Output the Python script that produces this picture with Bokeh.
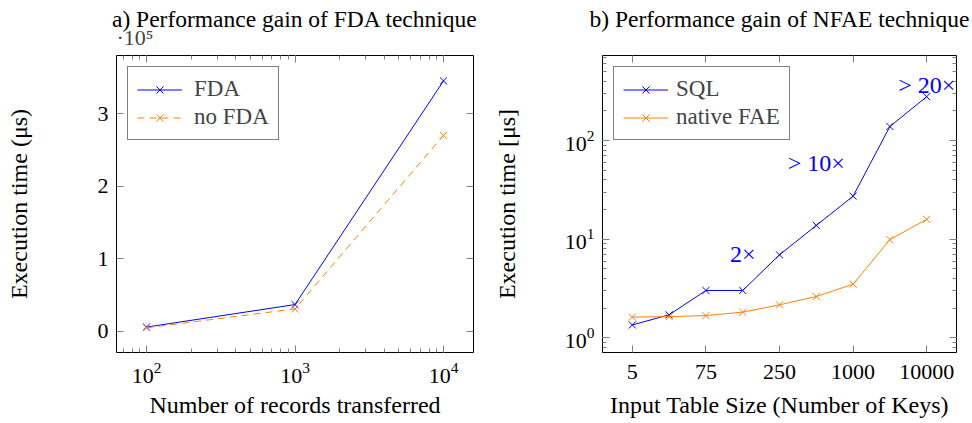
from bokeh.plotting import figure
from bokeh.layouts import row
from bokeh.models import (Range1d, LogAxis, LinearAxis, FixedTicker, Label, Legend,
                          LegendItem, Title)
from bokeh.embed import file_html
from bokeh.resources import INLINE

# ---------------- data ----------------
# a) FDA technique
records = [100, 1000, 10000]
fda = [6000, 37000, 345000]
no_fda = [5000, 31000, 270000]
a_y_ticks = [0, 100000, 200000, 300000]
a_y_tick_labels = ["0", "1", "2", "3"]

# b) NFAE technique (9 evenly spaced input sizes; every second one labelled)
b_index = [0, 1, 2, 3, 4, 5, 6, 7, 8]
sql = [1.35, 1.71, 3.02, 3.02, 6.94, 13.8, 27.3, 139, 279]
native_fae = [1.62, 1.64, 1.68, 1.82, 2.16, 2.62, 3.50, 9.9, 15.9]
b_x_ticks = [0, 2, 4, 6, 8]
b_x_tick_labels = ["5", "75", "250", "1000", "10000"]
annotations = [("2×", 3, 7.0), ("> 10×", 5, 59), ("> 20×", 8, 363)]

FONT = "Liberation Serif"
FS_TITLE = "23.5px"
FS_AXIS = "24px"
FS_TICK = "22px"
FS_LEG = "23px"
BLUE = "#0000ff"
ORANGE = "#ff8000"
TICK = "#808080"


def style_axis(ax, labels=True):
    ax.major_tick_in = 7
    ax.major_tick_out = 0
    ax.minor_tick_in = 4
    ax.minor_tick_out = 0
    ax.major_tick_line_color = TICK
    ax.minor_tick_line_color = TICK
    ax.axis_line_color = None
    ax.major_label_text_font = FONT
    ax.major_label_text_font_size = FS_TICK
    ax.major_label_text_color = "black"
    ax.axis_label_text_font = FONT
    ax.axis_label_text_font_size = FS_AXIS
    ax.axis_label_text_font_style = "normal"
    ax.axis_label_text_color = "black"
    if not labels:
        ax.major_label_text_font_size = "2px"
        ax.major_label_text_alpha = 0
        ax.major_label_standoff = 0


def style_fig(p):
    p.grid.visible = False
    p.outline_line_color = "black"
    p.outline_line_width = 1
    p.title.align = "center"
    p.title.text_font = FONT
    p.title.text_font_size = FS_TITLE
    p.title.text_font_style = "normal"
    p.title.text_color = "black"
    p.title.standoff = -30
    p.background_fill_color = "white"
    p.border_fill_color = "white"


def style_legend(lg):
    lg.location = "top_left"
    lg.margin = 11
    lg.padding = 9
    lg.spacing = 2
    lg.glyph_width = 45
    lg.glyph_height = 25
    lg.label_height = 25
    lg.label_standoff = 12
    lg.label_text_font = FONT
    lg.label_text_font_size = FS_LEG
    lg.border_line_color = "black"
    lg.border_line_width = 1
    lg.background_fill_alpha = 1


def sub_title(text):
    return Title(text=text, align="left", text_font=FONT, text_font_size=FS_TICK,
                 text_font_style="normal", standoff=12)


# ---------------- plot a ----------------
p1 = figure(width=490, height=423, x_axis_type="log",
            x_range=Range1d(10 ** 1.798, 10 ** 4.202), y_range=Range1d(-29000, 380000),
            title="a) Performance gain of FDA technique",
            output_backend="svg", toolbar_location=None,
            min_border_left=116, min_border_right=17, min_border_top=55, min_border_bottom=71)
style_fig(p1)

l1 = p1.line(records, fda, line_color=BLUE, line_width=1)
s1 = p1.scatter(records, fda, marker="x", size=10, line_color=BLUE, line_width=1)
l2 = p1.line(records, no_fda, line_color=ORANGE, line_width=1, line_dash="7 5")
s2 = p1.scatter(records, no_fda, marker="x", size=10, line_color=ORANGE, line_width=1)

p1.yaxis.ticker = FixedTicker(ticks=a_y_ticks)
p1.yaxis.major_label_overrides = {t: l for t, l in zip(a_y_ticks, a_y_tick_labels)}
p1.yaxis.axis_label = "Execution time (μs)"
p1.xaxis.axis_label = "Number of records transferred"
for ax in p1.xaxis + p1.yaxis:
    style_axis(ax)
p1.yaxis.major_label_standoff = 8
p1.yaxis.axis_label_standoff = 63
p1.xaxis.major_label_standoff = 10
p1.xaxis.axis_label_standoff = 6
p1.yaxis.minor_tick_line_color = None

top1 = LogAxis(ticker=p1.xaxis[0].ticker)
style_axis(top1, labels=False)
p1.add_layout(top1, "above")
right1 = LinearAxis(ticker=FixedTicker(ticks=a_y_ticks))
style_axis(right1, labels=False)
right1.minor_tick_line_color = None
p1.add_layout(right1, "right")

# scale factor of the y axis, shown above the frame's top-left corner
p1.add_layout(sub_title("·10⁵"), "above")

lg1 = Legend(items=[LegendItem(label="FDA", renderers=[l1, s1]),
                    LegendItem(label="no FDA", renderers=[l2, s2])])
style_legend(lg1)
p1.add_layout(lg1)

# ---------------- plot b ----------------
p2 = figure(width=482, height=423, y_axis_type="log",
            x_range=Range1d(-0.81, 8.81), y_range=Range1d(10 ** -0.149, 10 ** 2.863),
            title="b) Performance gain of NFAE technique",
            output_backend="svg", toolbar_location=None,
            min_border_left=108, min_border_right=16, min_border_top=55, min_border_bottom=71)
style_fig(p2)

l3 = p2.line(b_index, sql, line_color=BLUE, line_width=1)
s3 = p2.scatter(b_index, sql, marker="x", size=10, line_color=BLUE, line_width=1)
l4 = p2.line(b_index, native_fae, line_color=ORANGE, line_width=1)
s4 = p2.scatter(b_index, native_fae, marker="x", size=10, line_color=ORANGE, line_width=1)

p2.xaxis.ticker = FixedTicker(ticks=b_x_ticks)
p2.xaxis.major_label_overrides = {t: l for t, l in zip(b_x_ticks, b_x_tick_labels)}
p2.yaxis.axis_label = "Execution time [μs]"
p2.xaxis.axis_label = "Input Table Size (Number of Keys)"
for ax in p2.xaxis + p2.yaxis:
    style_axis(ax)
p2.xaxis.minor_tick_line_color = None
p2.yaxis.major_label_standoff = 8
p2.yaxis.axis_label_standoff = 42
p2.xaxis.major_label_standoff = 12
p2.xaxis.axis_label_standoff = 10

top2 = LinearAxis(ticker=FixedTicker(ticks=b_x_ticks))
style_axis(top2, labels=False)
top2.minor_tick_line_color = None
p2.add_layout(top2, "above")
right2 = LogAxis(ticker=p2.yaxis[0].ticker)
style_axis(right2, labels=False)
p2.add_layout(right2, "right")
# blank spacer so that both titles sit at the same height
p2.add_layout(sub_title(" "), "above")

lg2 = Legend(items=[LegendItem(label="SQL", renderers=[l3, s3]),
                    LegendItem(label="native FAE", renderers=[l4, s4])])
style_legend(lg2)
lg2.label_standoff = 8
p2.add_layout(lg2)

for txt, xi, yv in annotations:
    p2.add_layout(Label(x=xi, y=yv, text=txt, text_font=FONT, text_font_size="24px",
                        text_color=BLUE, text_align="center", text_baseline="middle"))

layout = row(p1, p2)
open("out.html", "w").write(file_html(layout, INLINE))
